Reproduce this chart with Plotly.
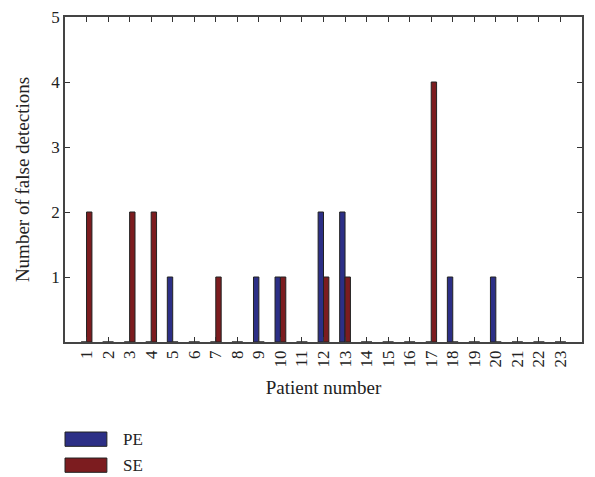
import plotly.graph_objects as go

patients = [str(i) for i in range(1, 24)]
pe_values = [0, 0, 0, 0, 1, 0, 0, 0, 1, 1, 0, 2, 2, 0, 0, 0, 0, 1, 0, 1, 0, 0, 0]
se_values = [2, 0, 2, 2, 0, 0, 1, 0, 0, 1, 0, 1, 1, 0, 0, 0, 4, 0, 0, 0, 0, 0, 0]
y_ticks = [1, 2, 3, 4, 5]

PE_COLOR = "#2c2f86"
SE_COLOR = "#7c1c1f"
LINE = "#222222"
FONT = "Liberation Serif"

fig = go.Figure()
fig.add_trace(go.Bar(name="PE", x=patients, y=pe_values, marker=dict(color=PE_COLOR, line=dict(color=LINE, width=1))))
fig.add_trace(go.Bar(name="SE", x=patients, y=se_values, marker=dict(color=SE_COLOR, line=dict(color=LINE, width=1))))

fig.update_layout(
    width=595, height=477,
    margin=dict(l=65, r=13, t=17, b=135),
    paper_bgcolor="white", plot_bgcolor="white",
    barmode="group", bargap=0.5, bargroupgap=0,
    showlegend=False,
    font=dict(family=FONT, size=17, color="#222"),
)
fig.update_xaxes(
    type="category", range=[-1, 23], automargin=False,
    tickangle=-90, ticks="inside", ticklen=5, tickcolor="#333",
    showline=True, linecolor="#444", linewidth=1.5, mirror="ticks",
    showgrid=False, tickfont=dict(size=17),
    title=dict(text="Patient number", font=dict(size=19), standoff=14),
)
fig.update_yaxes(
    range=[0, 5], tickvals=y_ticks, ticks="inside", ticklen=5, tickcolor="#333",
    showline=True, linecolor="#444", linewidth=1.5, mirror="ticks",
    showgrid=False, zeroline=False, tickfont=dict(size=17), automargin=False,
    title=dict(text="Number of false detections", font=dict(size=19), standoff=17),
)

# Custom legend (swatches + labels) below the plot
legend_items = [("PE", PE_COLOR), ("SE", SE_COLOR)]
for i, (name, col) in enumerate(legend_items):
    top = -0.277 - i * 0.08
    fig.add_shape(type="rect", xref="paper", yref="paper",
                  x0=0.0, x1=0.081, y0=top - 0.044, y1=top,
                  fillcolor=col, line=dict(color=LINE, width=1))
    fig.add_annotation(xref="paper", yref="paper", x=0.108, y=top - 0.022,
                       text=name, showarrow=False, xanchor="left", yanchor="middle",
                       font=dict(family=FONT, size=17, color="#222"))

fig.write_html(
    "out.html",
    config={"displayModeBar": False},
    post_script="document.body.style.margin='0';document.body.style.overflow='hidden';",
)
